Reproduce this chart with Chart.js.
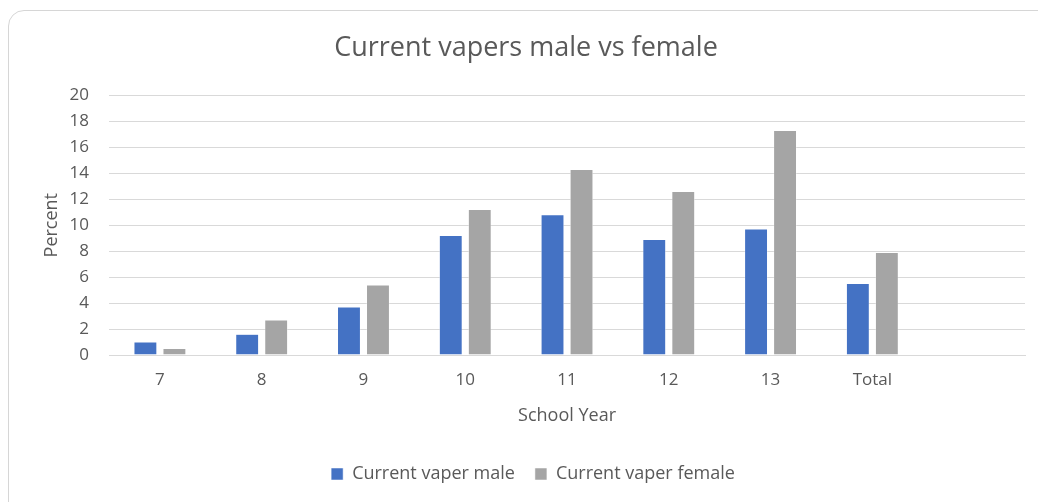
<!DOCTYPE html>
<html>
<head>
<meta charset="utf-8">
<script src="https://cdn.jsdelivr.net/npm/chart.js@4/dist/chart.umd.min.js"></script>
<style>
  html, body { margin: 0; padding: 0; background: #fff; overflow: hidden; }
  #card {
    position: absolute; left: 8px; top: 10px; width: 1060px; height: 520px;
    border: 1px solid #d6d6d6; border-radius: 16px; box-sizing: border-box;
  }
  #wrap { position: absolute; left: 8px; top: 10px; width: 1038px; height: 492px; }
</style>
</head>
<body>
<div id="card"></div>
<div id="wrap"><canvas id="myChart"></canvas></div>
<script>
const schoolYears = ["7", "8", "9", "10", "11", "12", "13", "Total", ""];
const maleValues = [1.0, 1.6, 3.7, 9.2, 10.8, 8.9, 9.7, 5.5, null];
const femaleValues = [0.5, 2.7, 5.4, 11.2, 14.3, 12.6, 17.3, 7.9, null];
const yTicks = [0, 2, 4, 6, 8, 10, 12, 14, 16, 18, 20];

const textColor = "#595959";
const font = "'Open Sans', sans-serif";

function drawChart() {
  const ctx = document.getElementById("myChart").getContext("2d");
  new Chart(ctx, {
    type: "bar",
    data: {
      labels: schoolYears,
      datasets: [
        {
          label: "Current vaper male",
          data: maleValues,
          backgroundColor: "#4472c4",
          borderColor: "#ffffff",
          borderWidth: 0.5,
          categoryPercentage: 0.57,
          barPercentage: 0.79,
        },
        {
          label: "Current vaper female",
          data: femaleValues,
          backgroundColor: "#a5a5a5",
          borderColor: "#ffffff",
          borderWidth: 0.5,
          categoryPercentage: 0.57,
          barPercentage: 0.79,
        },
      ],
    },
    options: {
      responsive: true,
      maintainAspectRatio: false,
      animation: false,
      layout: { padding: { left: 33, right: 21, top: 12, bottom: 9 } },
      plugins: {
        tooltip: { enabled: false },
        title: {
          display: true,
          // trailing spaces nudge the centred title a little to the left, as in the original
          text: "Current vapers male vs female  ",
          color: textColor,
          font: { family: font, size: 27, weight: "normal" },
          padding: { top: 10, bottom: 31 },
        },
        legend: {
          position: "bottom",
          labels: {
            color: textColor,
            font: { family: font, size: 18 },
            boxWidth: 12,
            boxHeight: 12,
            padding: 20,
          },
        },
      },
      scales: {
        x: {
          grid: { display: false, drawTicks: false, tickLength: 0 },
          border: { color: "#d9d9d9" },
          ticks: { color: textColor, font: { family: font, size: 17 }, padding: 15 },
          title: {
            display: true,
            text: "School Year",
            color: textColor,
            font: { family: font, size: 18 },
            padding: { top: 0, bottom: 18 },
          },
        },
        y: {
          min: 0,
          max: 20,
          afterBuildTicks: (axis) => { axis.ticks = yTicks.map((v) => ({ value: v })); },
          grid: { color: "#d9d9d9", drawTicks: false, tickLength: 0 },
          border: { display: false },
          ticks: { color: textColor, font: { family: font, size: 17 }, padding: 20 },
          title: {
            display: true,
            text: "Percent",
            color: textColor,
            font: { family: font, size: 18 },
            padding: { top: 0, bottom: -13 },
          },
        },
      },
    },
  });
}

drawChart();
</script>
</body>
</html>
